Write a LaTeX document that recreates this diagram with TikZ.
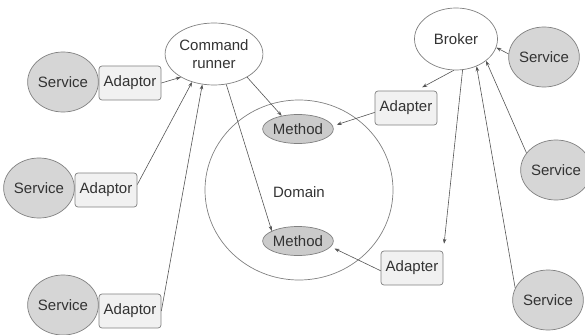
\documentclass[tikz,border=0pt]{standalone}
\usepackage{fontspec}
\setmainfont{Liberation Sans}
\usetikzlibrary{shapes.geometric,arrows.meta}
\definecolor{txt}{HTML}{333333}
\definecolor{edge}{HTML}{808080}
\definecolor{svcfill}{HTML}{D6D6D6}
\definecolor{methfill}{HTML}{CBCBCB}
\definecolor{adpfill}{HTML}{F1F1F1}
\definecolor{lin}{HTML}{555555}
\tikzset{
  base/.style={draw=edge, line width=0.7pt, text=txt, inner sep=0pt, font=\fontsize{15}{18}\selectfont},
  svc/.style={base, ellipse, fill=svcfill, minimum width=63pt, minimum height=60pt},
  adp/.style={base, rectangle, rounded corners=3pt, fill=adpfill, minimum width=62pt, minimum height=34pt},
  oval/.style={base, ellipse, fill=white, minimum width=83pt, minimum height=62pt, align=center},
  meth/.style={base, ellipse, fill=methfill, minimum width=60pt, minimum height=29pt},
  domc/.style={draw=edge, line width=0.7pt, ellipse, minimum width=188pt, minimum height=180pt, inner sep=0pt},
  lbl/.style={text=txt, inner sep=0pt, font=\fontsize{15}{18}\selectfont},
  conn/.style={draw=lin, line width=0.6pt, -{Stealth[length=5pt,width=3.6pt]}}
}
\begin{document}
\begin{tikzpicture}[x=1pt,y=-1pt]
\useasboundingbox (0,0) rectangle (585,334);
% domain
\node[domc] (dom) at (299,190) {};
\node[lbl] (domt) at (299,192) {Domain};
\node[meth] (m1) at (298,129) {Method};
\node[meth] (m2) at (298,241) {Method};
% left side
\node[oval] (cr) at (214,54) {Command\\runner};
\node[svc] (s1) at (63,82) {Service};
\node[adp] (a1) at (130,83) {Adaptor};
\node[svc] (s2) at (39,188) {Service};
\node[adp] (a2) at (106,190) {Adaptor};
\node[svc] (s3) at (63,305) {Service};
\node[adp] (a3) at (130,311) {Adaptor};
% right side
\node[oval] (br) at (456,39) {Broker};
\node[svc] (r1) at (544,57) {Service};
\node[adp] (b1) at (406,108) {Adapter};
\node[svc] (r2) at (556,170) {Service};
\node[adp] (b2) at (412,268) {Adapter};
\node[svc] (r3) at (548,300) {Service};
% connectors
\draw[conn] (a1.east) -- (cr.215);
\draw[conn] (a2.10) -- (cr.232);
\draw[conn] (a3.east) -- (cr.249);
\draw[conn] (cr.-35) -- (m1.141);
\draw[conn] (cr.-68) -- (m2.159);
\draw[conn, shorten >=7pt] (br.266) -- (b1.60);
\draw[conn, shorten >=4pt] (b1.188) -- (m1.5);
\draw[conn, shorten >=7pt] (br.-78) -- (b2.north east);
\draw[conn, shorten >=4pt] (b2.185) -- (m2.-10);
\draw[conn] (r1.175) -- (br.-12);
\draw[conn] (r2.150) -- (br.-36);
\draw[conn] (r3.160) -- (br.-53);
\end{tikzpicture}
\end{document}
